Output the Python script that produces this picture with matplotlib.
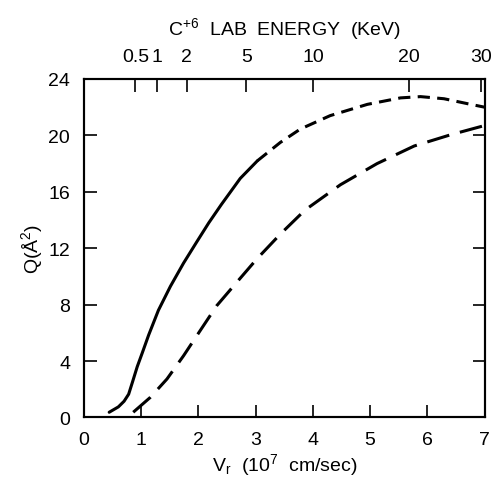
import numpy as np
import matplotlib
matplotlib.use("Agg")
import matplotlib.pyplot as plt

plt.rcParams['font.family'] = ['Liberation Sans', 'DejaVu Sans']
plt.rcParams['mathtext.fontset'] = 'custom'
plt.rcParams['mathtext.rm'] = 'Liberation Sans'
plt.rcParams['mathtext.it'] = 'Liberation Sans'

# Solid part of upper curve
v_solid = [0.44, 0.60, 0.70, 0.78, 0.85, 0.93, 1.02, 1.13, 1.30, 1.51, 1.74, 1.97, 2.18, 2.40, 2.73, 3.03]
q_solid = [0.37, 0.75, 1.15, 1.65, 2.55, 3.60, 4.60, 5.85, 7.60, 9.30, 10.95, 12.45, 13.8, 15.1, 16.95, 18.2]
# Short-dashed continuation of upper curve
v_sdash = [3.03, 3.43, 3.78, 4.30, 4.95, 5.53, 5.88, 6.29, 6.70, 7.0]
q_sdash = [18.2, 19.5, 20.45, 21.4, 22.2, 22.66, 22.75, 22.6, 22.25, 22.0]
# Long-dashed curve
v_ldash = [0.86, 1.16, 1.45, 1.74, 2.03, 2.32, 2.67, 3.02, 3.43, 3.86, 4.48, 5.12, 5.77, 6.41, 7.0]
q_ldash = [0.37, 1.43, 2.73, 4.38, 6.16, 7.93, 9.59, 11.24, 13.0, 14.7, 16.5, 18.0, 19.25, 20.05, 20.7]

# Top axis: C+6 lab energy (keV), E = 0.622 * v^2
energy_ticks = [0.5, 1, 2, 5, 10, 20, 30]
energy_labels = ["0.5", "1", "2", "5", "10", "20", "30"]
E_COEF = 0.622

x_ticks = [0, 1, 2, 3, 4, 5, 6, 7]
y_ticks = [0, 4, 8, 12, 16, 20, 24]

FS = 14
fig = plt.figure(figsize=(4.93, 4.81), dpi=100)
ax = fig.add_axes([0.1704, 0.130, 0.8126, 0.7037])

lw = 2.2
ax.plot(v_solid, q_solid, color='black', lw=lw, solid_capstyle='round')
ax.plot(v_sdash, q_sdash, color='black', lw=lw, dashes=(4.0, 2.4))
ax.plot(v_ldash, q_ldash, color='black', lw=lw, dashes=(7.5, 3.6))

ax.set_xlim(0, 7)
ax.set_ylim(0, 24)
ax.set_xticks(x_ticks)
ax.set_yticks(y_ticks)
ax.tick_params(direction='in', length=9, width=1.2, labelsize=FS,
               top=False, right=True, pad=10)
for s in ax.spines.values():
    s.set_linewidth(1.5)

ax.set_xlabel(r"V$_\mathrm{r}$  (10$^7$  cm/sec)", fontsize=FS, labelpad=2)
ax.set_ylabel(r"Q($\mathrm{\AA}^2$)", fontsize=FS, labelpad=2)

top = ax.twiny()
top.set_xlim(ax.get_xlim())
top.set_xticks([np.sqrt(e / E_COEF) for e in energy_ticks])
top.set_xticklabels(energy_labels)
top.tick_params(direction='in', length=9, width=1.2, labelsize=FS, pad=10)
top.set_xlabel(r"C$^{+6}$  LAB  ENERGY  (KeV)", fontsize=FS, labelpad=10)
for s in top.spines.values():
    s.set_linewidth(1.5)

fig.savefig("out.png", dpi=100)
